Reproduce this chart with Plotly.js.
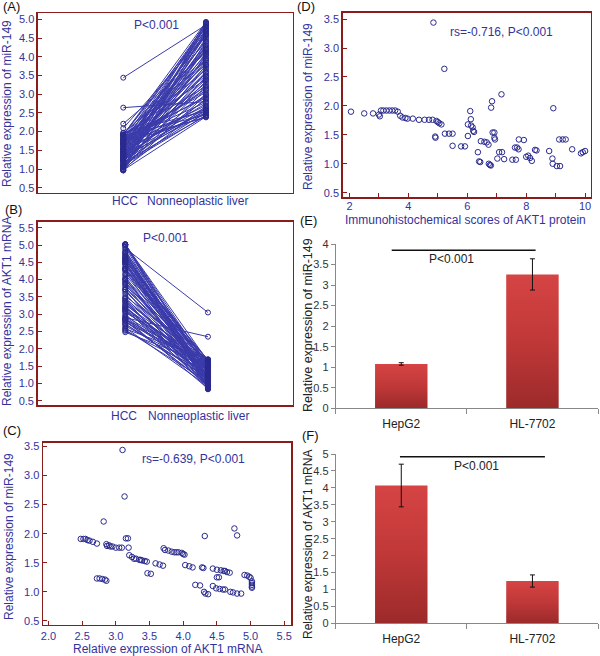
<!DOCTYPE html>
<html>
<head>
<meta charset="utf-8">
<script src="https://cdn.plot.ly/plotly-3.0.1.min.js"></script>
<style>html,body{margin:0;padding:0;background:#fff}#chart{width:600px;height:656px}</style>
</head>
<body>
<div id="chart"></div>
<script>
// ---------- DATA ----------
// Panel C: HCC tissue pairs (AKT1 mRNA vs miR-149)
const akt1C = [3.10,3.13,2.82,4.32,4.76,4.80,2.48,2.52,2.55,2.58,2.61,2.66,2.72,2.86,2.87,2.92,2.95,3.00,3.05,3.09,
  3.15,3.18,3.19,3.20,3.24,3.27,3.30,3.35,3.39,3.43,3.46,3.47,3.52,3.59,3.65,3.70,3.71,3.73,3.78,3.83,
  3.87,3.90,3.98,4.02,4.03,4.09,4.14,4.28,4.30,4.44,4.50,4.56,4.60,4.65,4.69,4.50,4.53,4.91,4.95,4.98,
  5.00,5.02,5.02,5.02,5.02,5.02,2.72,2.76,2.80,2.84,2.86,4.18,4.25,4.31,4.33,4.37,4.44,4.49,4.54,4.59,
  4.62,4.70,4.74,4.80,4.86,3.93,4.00,2.90,3.37,4.62];
const mirC = [3.44,2.64,2.21,1.96,2.09,1.97,1.91,1.91,1.91,1.89,1.88,1.86,1.83,1.82,1.79,1.78,1.78,1.76,1.76,1.76,
  1.92,1.92,1.76,1.63,1.60,1.57,1.57,1.55,1.54,1.53,1.52,1.32,1.31,1.49,1.47,1.45,1.75,1.72,1.71,1.69,
  1.68,1.68,1.67,1.64,1.46,1.44,1.42,1.42,1.41,1.40,1.38,1.37,1.36,1.34,1.33,1.25,1.25,1.29,1.28,1.26,
  1.24,1.18,1.15,1.12,1.09,1.07,1.23,1.23,1.22,1.21,1.19,1.12,1.11,1.00,0.97,0.96,1.10,1.06,1.05,1.04,
  1.04,1.00,0.99,0.97,0.97,1.68,1.65,1.80,1.55,1.36];
// Panel A: miR-149, HCC (= mirC) vs paired nonneoplastic liver
const mirNormalA = [4.85,2.80,4.10,3.90,4.60,2.55,4.93,4.70,3.20,2.45,4.40,3.65,2.90,4.20,3.05,4.88,2.60,3.80,4.55,2.38,
  3.40,4.78,3.10,4.05,2.70,4.65,3.55,2.50,4.30,3.30,4.90,2.85,3.95,4.45,2.65,3.75,4.15,2.95,4.80,3.50,
  2.40,4.25,3.15,4.60,3.85,2.75,4.35,3.25,4.92,2.55,4.00,3.60,4.75,2.48,3.45,4.50,3.00,4.85,2.62,3.70,
  4.10,2.42,4.68,3.35,2.88,4.40,3.90,2.58,4.82,3.20,4.22,2.52,3.58,4.62,2.98,4.05,2.44,3.78,4.90,3.12,
  4.30,2.68,3.48,4.72,2.40,3.95,4.58,2.78,4.18,3.40];
// Panel B: AKT1 mRNA, HCC (= akt1C) vs paired nonneoplastic liver
const aktNormalB = [1.20,1.45,0.95,1.62,1.10,0.88,1.55,1.30,1.05,1.68,0.92,1.40,1.15,1.58,0.85,1.25,1.48,1.00,1.65,1.35,
  0.90,1.52,1.18,1.42,0.98,1.60,1.28,1.08,1.50,0.83,1.38,1.22,1.70,1.02,1.45,1.12,0.87,1.56,1.32,1.66,
  0.96,1.26,1.44,1.06,1.62,0.89,1.36,1.16,1.54,1.00,1.30,1.68,0.93,1.47,1.21,1.10,1.58,3.05,0.84,1.40,
  1.27,1.64,1.03,1.50,0.91,1.34,1.14,1.60,0.97,1.43,1.24,1.69,0.86,1.37,1.09,1.53,1.19,0.94,1.66,1.29,
  1.04,1.46,1.13,1.57,0.88,1.33,1.23,2.35,1.01,1.49];
const groupLabels = ['HCC', 'Nonneoplastic liver'];
// Panel D: immunohistochemical score of AKT1 protein vs miR-149
const ihcD = [4.85,5.22,7.16,6.84,6.81,8.92,2.05,2.50,2.80,3.00,3.03,3.07,3.15,3.25,3.35,3.45,3.55,3.64,3.72,3.80,
  3.90,3.97,4.15,4.36,4.55,4.70,4.82,4.95,5.00,5.05,5.12,4.91,4.92,5.24,5.38,5.50,5.50,5.79,5.92,6.02,
  6.02,6.10,6.12,6.13,6.18,6.20,6.23,6.36,6.40,6.44,6.46,6.58,6.66,6.72,6.73,6.77,6.80,6.86,6.92,6.92,
  6.94,7.02,7.08,7.18,7.25,7.53,7.65,7.62,7.69,7.74,7.75,7.92,8.00,8.07,8.13,8.19,8.30,8.35,8.78,8.89,
  8.90,9.04,9.15,9.12,9.24,9.34,9.56,9.86,9.92,10.0];
const mirD = [3.44,2.64,2.20,2.08,1.97,1.96,1.90,1.87,1.87,1.85,1.82,1.92,1.92,1.92,1.92,1.92,1.92,1.90,1.83,1.80,
  1.79,1.78,1.78,1.76,1.76,1.76,1.76,1.74,1.72,1.70,1.68,1.47,1.45,1.52,1.52,1.52,1.31,1.30,1.30,1.68,
  1.48,1.91,1.77,1.66,1.63,1.57,1.55,1.20,1.04,1.03,1.39,1.38,1.37,1.33,1.00,0.98,0.97,1.54,1.54,1.45,
  1.42,1.09,1.20,1.20,1.08,1.07,1.07,1.28,1.28,1.25,1.42,1.41,1.12,1.14,1.10,1.05,1.24,1.23,1.22,1.09,
  1.00,0.96,0.96,1.42,1.42,1.42,1.25,1.18,1.20,1.22];
// Panels E/F: cell lines
const cellLines = ['HepG2', 'HL-7702'];
const mirCell = [1.08, 3.26];
const mirCellErr = [0.03, 0.38];
const aktCell = [4.07, 1.25];
const aktCellErr = [0.63, 0.18];
const pText = 'P<0.001';
const rsC = 'rs=-0.639, P<0.001';
const rsD = 'rs=-0.716, P<0.001';

// ---------- STYLE ----------
const FONT = 'Liberation Sans, Arial, sans-serif';
const BLUE = '#33339c';
const LINEBLUE = '#3a3aaa';
const BOX = '#8b1c1c';
const GREY = '#888888';

function pairTrace(a, b, xa, ya) {
  const x = [], y = [];
  for (let i = 0; i < a.length; i++) { x.push(1, 2, null); y.push(a[i], b[i], null); }
  return {x, y, xaxis: xa, yaxis: ya, type: 'scatter', mode: 'lines+markers', hoverinfo: 'skip',
    line: {color: LINEBLUE, width: 1},
    marker: {symbol: 'circle-open', size: 5, color: '#2a2a8e', line: {width: 1}}};
}

const data = [
  pairTrace(mirC, mirNormalA, 'x', 'y'),
  pairTrace(akt1C, aktNormalB, 'x2', 'y2'),
  {x: akt1C, y: mirC, xaxis: 'x3', yaxis: 'y3', type: 'scatter', mode: 'markers',
   marker: {symbol: 'circle-open', size: 5.5, color: '#2a2a8e', line: {width: 1}}},
  {x: ihcD, y: mirD, xaxis: 'x4', yaxis: 'y4', type: 'scatter', mode: 'markers',
   marker: {symbol: 'circle-open', size: 5.5, color: '#2a2a8e', line: {width: 1}}},
  {x: cellLines, y: mirCell, xaxis: 'x5', yaxis: 'y5', type: 'bar', width: 0.4,
   marker: {color: '#c03636'},
   error_y: {type: 'data', array: mirCellErr, color: '#111', thickness: 1, width: 2.5}},
  {x: cellLines, y: aktCell, xaxis: 'x6', yaxis: 'y6', type: 'bar', width: 0.4,
   marker: {color: '#c03636'},
   error_y: {type: 'data', array: aktCellErr, color: '#111', thickness: 1, width: 2.5}}
];

const tickF = {family: FONT, size: 11, color: BLUE};
function boxY(dom, range, extra) {
  return Object.assign({domain: dom, range, showline: true, mirror: true, linecolor: BOX, linewidth: 1.5,
    ticks: 'inside', ticklen: 4, tickcolor: BOX, tickwidth: 1, dtick: 0.5, tick0: 0.5, tickformat: '.1f',
    showgrid: false, zeroline: false, tickfont: tickF}, extra || {});
}
function boxX(dom, range, extra) {
  return Object.assign({domain: dom, range, showline: true, mirror: true, linecolor: BOX, linewidth: 1.5,
    showgrid: false, zeroline: false, tickfont: tickF}, extra || {});
}
function barY(dom, range, anchor) {
  return {domain: dom, range, anchor, showline: true, linecolor: GREY, linewidth: 1, ticks: 'outside',
    ticklen: 4, tickcolor: GREY, dtick: 0.5, showgrid: false, zeroline: false,
    tickfont: {family: FONT, size: 11, color: '#333'}};
}
function barX(dom, anchor) {
  return {domain: dom, range: [-0.5, 1.5], anchor, type: 'category', showline: true, linecolor: GREY,
    linewidth: 1, ticks: 'outside', tickson: 'boundaries', ticklen: 5, tickcolor: GREY,
    showgrid: false, zeroline: false, ticklabelstandoff: 4,
    tickfont: {family: FONT, size: 12, color: '#222'}};
}

const P = (px) => px / 600, Q = (py) => 1 - py / 656;
function ann(text, px, py, size, color, rot) {
  return {text, x: P(px), y: Q(py), xref: 'paper', yref: 'paper', showarrow: false,
    xanchor: 'center', yanchor: 'middle', textangle: rot || 0, borderpad: 0,
    font: {family: FONT, size, color}};
}

const annotations = [
  ann('(A)', 11, 7, 13, '#111'), ann('(B)', 13, 210, 13, '#111'), ann('(C)', 12, 430, 13, '#111'),
  ann('(D)', 306, 7, 13, '#111'), ann('(E)', 308, 220, 13, '#111'), ann('(F)', 310, 435, 13, '#111'),
  ann('Relative expression of miR-149', 7, 104, 12, BLUE, -90),
  ann('Relative expression of AKT1 mRNA', 7, 312, 12, BLUE, -90),
  ann('Relative expression of miR-149', 9, 537, 12, BLUE, -90),
  ann('Relative expression of AKT1 mRNA', 167, 649, 12, BLUE),
  ann('Relative expression of miR-149', 308, 107, 12, BLUE, -90),
  ann('Immunohistochemical scores of AKT1 protein', 465, 220, 12, BLUE),
  ann('Relative expression of miR-149', 308, 325, 12.5, '#222', -90),
  ann('Relative expression of AKT1 mRNA', 308, 545, 12, '#222', -90),
  ann(groupLabels[0], 124.5, 201, 12, BLUE), ann(groupLabels[1], 197.5, 201, 12, BLUE),
  ann(groupLabels[0], 124.2, 416, 12, BLUE), ann(groupLabels[1], 198.7, 416, 12, BLUE),
  ann(pText, 156.7, 25, 12, BLUE), ann(pText, 165, 238, 12, BLUE),
  ann(rsC, 193.3, 459, 12, BLUE), ann(rsD, 501.7, 32, 12, BLUE),
  ann(pText, 451.7, 258.5, 12, '#222'), ann(pText, 476.7, 466, 12, '#222')
];

const shapes = [
  {type: 'line', xref: 'x5', yref: 'y5', x0: -0.073, x1: 1.024, y0: 3.85, y1: 3.85, line: {color: '#111', width: 1.5}},
  {type: 'line', xref: 'x6', yref: 'y6', x0: -0.01, x1: 1.095, y0: 4.92, y1: 4.92, line: {color: '#111', width: 1.5}}
];

const layout = {
  width: 600, height: 656, autosize: false, showlegend: false,
  margin: {l: 0, r: 0, t: 0, b: 0}, paper_bgcolor: '#fff', plot_bgcolor: '#fff',
  font: {family: FONT},
  xaxis: boxX([0.0633, 0.4883], [-0.031, 3.052], {showticklabels: false, ticks: ''}),
  yaxis: boxY([0.7058, 0.9797], [0.36, 5.16]),
  xaxis2: boxX([0.0628, 0.4878], [-0.059, 3.024], {anchor: 'y2', showticklabels: false, ticks: ''}),
  yaxis2: boxY([0.3826, 0.6620], [0.376, 5.673], {anchor: 'x2'}),
  xaxis3: boxX([0.0717, 0.485], [1.92, 5.60], {anchor: 'y3', ticks: 'inside', ticklen: 4, tickcolor: BOX,
    dtick: 0.5, tick0: 0, tickformat: '.1f'}),
  yaxis3: boxY([0.0473, 0.3247], [0.43, 3.56], {anchor: 'x3'}),
  xaxis4: boxX([0.5712, 0.9845], [1.77, 10.19], {anchor: 'y4', ticks: 'inside', ticklen: 4, tickcolor: BOX,
    dtick: 2, tick0: 0, ticklabelstandoff: -2, minor: {dtick: 1, ticks: 'inside', ticklen: 4, tickcolor: BOX}}),
  yaxis4: boxY([0.6992, 0.9806], [0.42, 3.61], {anchor: 'x4'}),
  xaxis5: barX([0.5595, 0.9967], 'y5'),
  yaxis5: barY([0.3776, 0.628], [0, 4], 'x5'),
  xaxis6: barX([0.5595, 0.9967], 'y6'),
  yaxis6: barY([0.0498, 0.3079], [0, 5], 'x6'),
  annotations, shapes
};

Plotly.newPlot('chart', data, layout, {staticPlot: true}).then(function (gd) {
  const ns = 'http://www.w3.org/2000/svg';
  const svg = gd.querySelector('svg.main-svg');
  let defs = svg.querySelector('defs');
  if (!defs) { defs = document.createElementNS(ns, 'defs'); svg.insertBefore(defs, svg.firstChild); }
  const lg = document.createElementNS(ns, 'linearGradient');
  lg.setAttribute('id', 'barRedGrad');
  lg.setAttribute('x1', '0'); lg.setAttribute('y1', '0'); lg.setAttribute('x2', '0'); lg.setAttribute('y2', '1');
  [['0', '#d64444'], ['0.5', '#c03838'], ['1', '#9c2a2a']].forEach(function (s) {
    const st = document.createElementNS(ns, 'stop');
    st.setAttribute('offset', s[0]); st.setAttribute('stop-color', s[1]);
    lg.appendChild(st);
  });
  defs.appendChild(lg);
  gd.querySelectorAll('.barlayer .point path').forEach(function (p) { p.style.fill = 'url(#barRedGrad)'; });
});
</script>
</body>
</html>
